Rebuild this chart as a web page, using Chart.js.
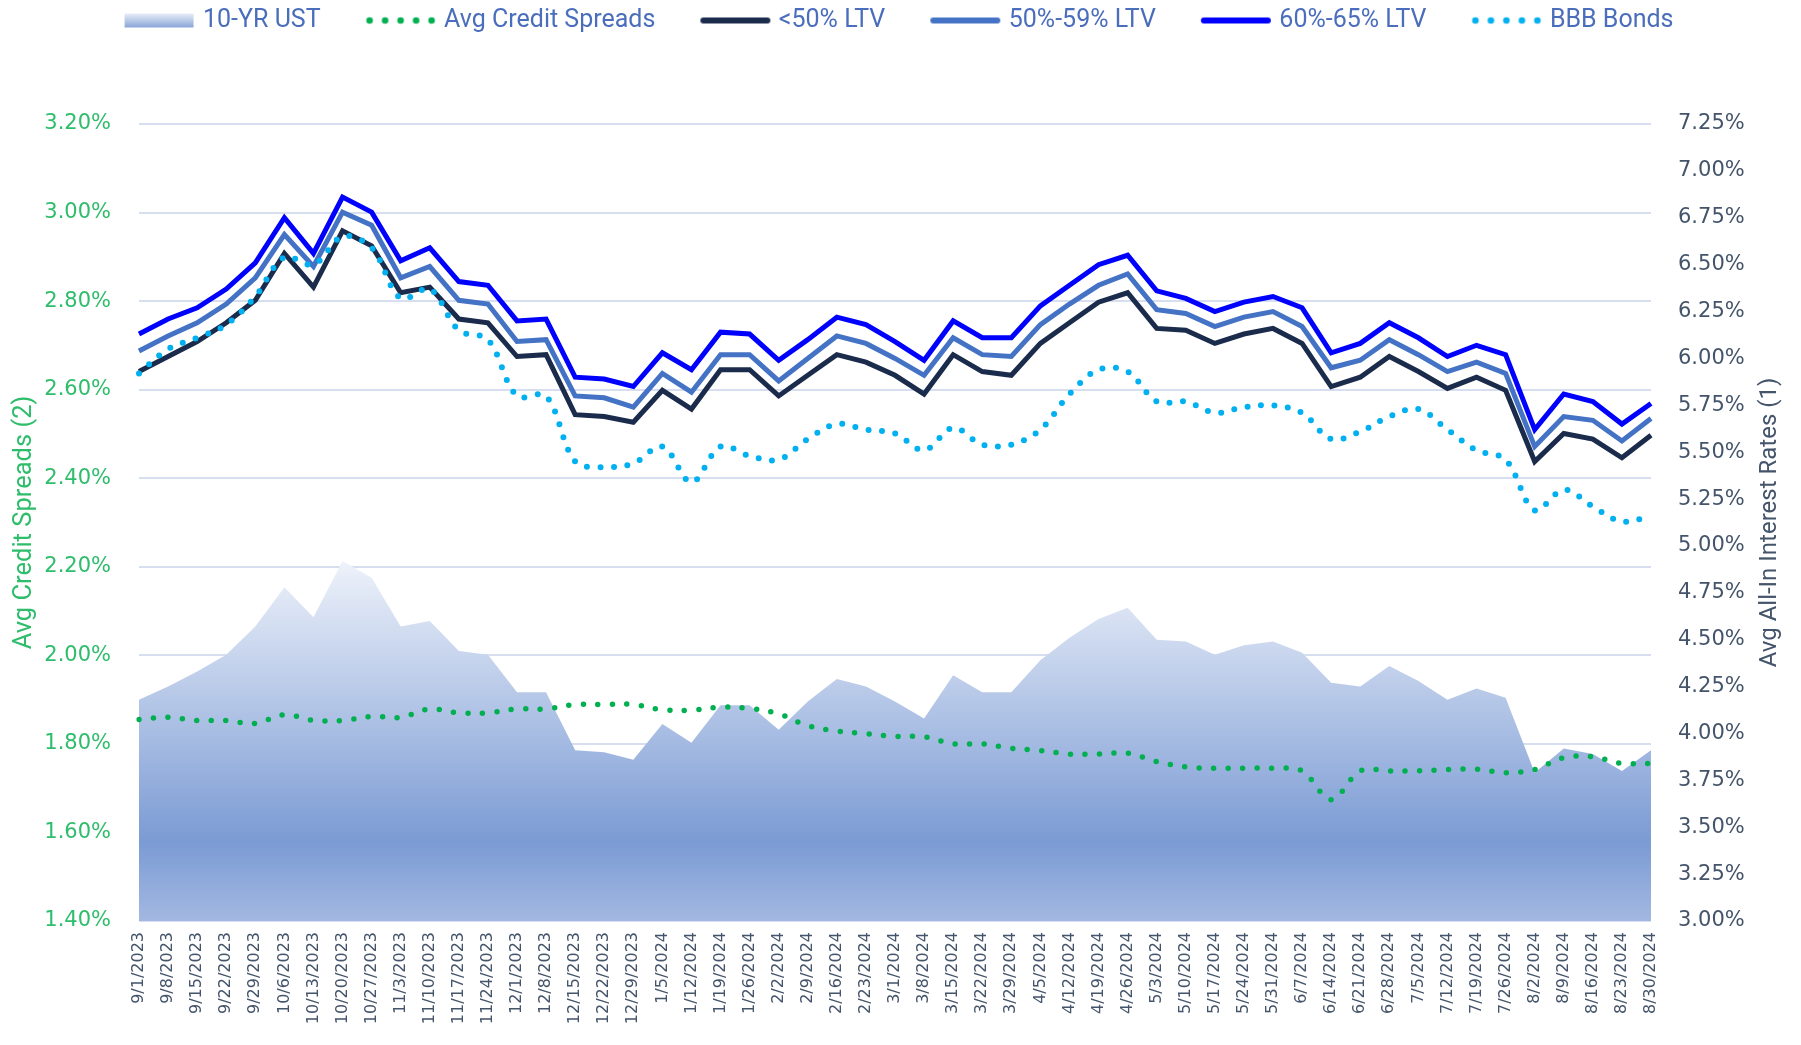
<!DOCTYPE html>
<html>
<head>
<meta charset="utf-8">
<title>Avg All-In Interest Rates vs Avg Credit Spreads</title>
<script src="https://cdn.jsdelivr.net/npm/chart.js@4.4.1/dist/chart.umd.min.js"></script>
<style>
  html, body { margin: 0; padding: 0; background: #ffffff; }
  #wrap { width: 1801px; height: 1045px; position: relative; }
</style>
</head>
<body>
<div id="wrap"><canvas id="rates-chart"></canvas></div>
<script>
// weekly dates
const weeks = ['9/1/2023', '9/8/2023', '9/15/2023', '9/22/2023', '9/29/2023', '10/6/2023', '10/13/2023',
    '10/20/2023', '10/27/2023', '11/3/2023', '11/10/2023', '11/17/2023', '11/24/2023', '12/1/2023',
    '12/8/2023', '12/15/2023', '12/22/2023', '12/29/2023', '1/5/2024', '1/12/2024', '1/19/2024',
    '1/26/2024', '2/2/2024', '2/9/2024', '2/16/2024', '2/23/2024', '3/1/2024', '3/8/2024', '3/15/2024',
    '3/22/2024', '3/29/2024', '4/5/2024', '4/12/2024', '4/19/2024', '4/26/2024', '5/3/2024', '5/10/2024',
    '5/17/2024', '5/24/2024', '5/31/2024', '6/7/2024', '6/14/2024', '6/21/2024', '6/28/2024', '7/5/2024',
    '7/12/2024', '7/19/2024', '7/26/2024', '8/2/2024', '8/9/2024', '8/16/2024', '8/23/2024', '8/30/2024'];

// right axis (%)
const ust10 = [4.18, 4.25, 4.33, 4.42, 4.57, 4.78, 4.62, 4.92, 4.83, 4.57, 4.60, 4.44, 4.42, 4.22, 4.22,
    3.91, 3.90, 3.86, 4.05, 3.95, 4.15, 4.15, 4.02, 4.17, 4.29, 4.25, 4.17, 4.08, 4.31, 4.22, 4.22, 4.39,
    4.51, 4.61, 4.67, 4.50, 4.49, 4.42, 4.47, 4.49, 4.43, 4.27, 4.25, 4.36, 4.28, 4.18, 4.24, 4.19, 3.79,
    3.92, 3.89, 3.80, 3.91];
const ltvUnder50 = [5.93, 6.01, 6.09, 6.19, 6.31, 6.56, 6.38, 6.68, 6.60, 6.35, 6.38, 6.21, 6.19, 6.01, 6.02,
    5.70, 5.69, 5.66, 5.83, 5.73, 5.94, 5.94, 5.80, 5.91, 6.02, 5.98, 5.91, 5.81, 6.02, 5.93, 5.91, 6.08,
    6.19, 6.30, 6.35, 6.16, 6.15, 6.08, 6.13, 6.16, 6.08, 5.85, 5.90, 6.01, 5.93, 5.84, 5.90, 5.83, 5.45,
    5.60, 5.57, 5.47, 5.59];
const ltv50to59 = [6.04, 6.12, 6.19, 6.29, 6.43, 6.66, 6.49, 6.78, 6.71, 6.43, 6.49, 6.31, 6.29, 6.09, 6.10,
    5.80, 5.79, 5.74, 5.92, 5.82, 6.02, 6.02, 5.88, 6.00, 6.12, 6.08, 6.00, 5.91, 6.11, 6.02, 6.01, 6.18,
    6.29, 6.39, 6.45, 6.26, 6.24, 6.17, 6.22, 6.25, 6.17, 5.95, 5.99, 6.10, 6.02, 5.93, 5.98, 5.92, 5.53,
    5.69, 5.67, 5.56, 5.68];
const ltv60to65 = [6.13, 6.21, 6.27, 6.37, 6.51, 6.75, 6.56, 6.86, 6.78, 6.52, 6.59, 6.41, 6.39, 6.20, 6.21,
    5.90, 5.89, 5.85, 6.03, 5.94, 6.14, 6.13, 5.99, 6.10, 6.22, 6.18, 6.09, 5.99, 6.20, 6.11, 6.11, 6.28,
    6.39, 6.50, 6.55, 6.36, 6.32, 6.25, 6.30, 6.33, 6.27, 6.03, 6.08, 6.19, 6.11, 6.01, 6.07, 6.02, 5.62,
    5.81, 5.77, 5.65, 5.76];
const bbbBonds = [5.92, 6.05, 6.11, 6.18, 6.33, 6.54, 6.50, 6.65, 6.59, 6.32, 6.37, 6.15, 6.10, 5.80, 5.80,
    5.45, 5.42, 5.44, 5.53, 5.34, 5.53, 5.48, 5.46, 5.57, 5.65, 5.62, 5.60, 5.51, 5.63, 5.54, 5.54, 5.62,
    5.81, 5.94, 5.93, 5.77, 5.77, 5.71, 5.74, 5.75, 5.71, 5.57, 5.61, 5.69, 5.73, 5.62, 5.51, 5.46, 5.19,
    5.30, 5.21, 5.13, 5.16];

// left axis (%)
const avgSpreads = [1.855, 1.860, 1.853, 1.853, 1.846, 1.866, 1.853, 1.853, 1.862, 1.860, 1.879, 1.870,
    1.870, 1.879, 1.879, 1.889, 1.889, 1.889, 1.877, 1.876, 1.883, 1.880, 1.868, 1.841, 1.829, 1.823,
    1.817, 1.816, 1.800, 1.800, 1.790, 1.785, 1.777, 1.777, 1.779, 1.760, 1.748, 1.745, 1.745, 1.745,
    1.739, 1.674, 1.739, 1.739, 1.739, 1.742, 1.743, 1.735, 1.742, 1.769, 1.771, 1.756, 1.756];

// axis ranges: min, max, step
const leftRange = [1.40, 3.20, 0.20];
const rightRange = [3.00, 7.25, 0.25];

const LABELFONT = 'Roboto, "Liberation Sans", sans-serif';
const TICKFONT = '"DejaVu Sans", sans-serif';
const LEGEND_COLOR = '#4A6EBC';

// legend symbol canvases: blank space on the left, symbol at the right end
const SWATCH_SLOT = 103;
function legendSwatch(kind, color) {
    const c = document.createElement('canvas');
    c.width = SWATCH_SLOT + 18;
    c.height = 18;
    const g = c.getContext('2d');
    const x0 = c.width - 75;
    if (kind === 'area') {
        const grad = g.createLinearGradient(0, 2, 0, 16);
        grad.addColorStop(0, '#E9EEF8');
        grad.addColorStop(1, '#8AA5D9');
        g.fillStyle = grad;
        g.fillRect(x0, 2, 69, 14);
    } else if (kind === 'dots') {
        g.fillStyle = color;
        for (let k = 0; k < 5; k++) {
            g.beginPath();
            g.arc(x0 + 4 + k * 15.5, 9, 3.3, 0, Math.PI * 2);
            g.fill();
        }
    } else {
        g.strokeStyle = color;
        g.lineWidth = 6;
        g.lineCap = 'round';
        g.beginPath();
        g.moveTo(x0 + 3, 9);
        g.lineTo(x0 + 67, 9);
        g.stroke();
    }
    return c;
}

const legendItems = [
    {text: '10-YR UST', swatch: legendSwatch('area')},
    {text: 'Avg Credit Spreads', swatch: legendSwatch('dots', '#00B050')},
    {text: '<50% LTV', swatch: legendSwatch('line', '#1A2B4C')},
    {text: '50%-59% LTV', swatch: legendSwatch('line', '#4472C4')},
    {text: '60%-65% LTV', swatch: legendSwatch('line', '#0000FF')},
    {text: 'BBB Bonds', swatch: legendSwatch('dots', '#00B0F0')}
];

// push the plot area down below the legend, and re-center the legend row
const legendSpacer = {
    id: 'legendSpacer',
    beforeInit(chart) {
        const origFit = chart.legend.fit;
        chart.legend.fit = function fit() {
            origFit.bind(chart.legend)();
            this.height = 124;
        };
    },
    afterLayout(chart) {
        chart.legend.left -= 20;
        chart.legend.right -= 20;
    }
};

// right axis title reads bottom-to-top
const rightTitle = {
    id: 'rightTitle',
    afterDraw(chart) {
        const ctx = chart.ctx;
        const area = chart.chartArea;
        const s = chart.scales.yR;
        ctx.save();
        ctx.translate(s.right - 31, (area.top + area.bottom) / 2);
        ctx.rotate(-Math.PI / 2);
        ctx.font = '24px ' + LABELFONT;
        ctx.fillStyle = '#44546A';
        ctx.textAlign = 'center';
        ctx.textBaseline = 'middle';
        ctx.fillText('Avg All-In Interest Rates (1)', 0, 0);
        ctx.restore();
    }
};

function ustGradient(context) {
    const chart = context.chart;
    const area = chart.chartArea;
    if (!area || !chart.scales.yR) return '#A9BDE3';
    const yTop = chart.scales.yR.getPixelForValue(Math.max(...ust10));
    const g = chart.ctx.createLinearGradient(0, yTop, 0, area.bottom);
    g.addColorStop(0, '#EEF2FA');
    g.addColorStop(0.78, '#7B9BD4');
    g.addColorStop(1, '#A3B8E1');
    return g;
}

const dotted = (color, width, gap) => ({
    borderColor: color,
    backgroundColor: color,
    borderWidth: width,
    borderDash: [0, gap],
    borderCapStyle: 'round',
    tension: 0.35,
    pointRadius: 0,
    fill: false
});

const solid = (color) => ({
    borderColor: color,
    backgroundColor: color,
    borderWidth: 5,
    borderJoinStyle: 'miter',
    tension: 0,
    pointRadius: 0,
    fill: false
});

const ctx = document.getElementById('rates-chart').getContext('2d');

new Chart(ctx, {
    type: 'line',
    data: {
        labels: weeks,
        datasets: [
            {
                label: '10-YR UST', data: ust10, yAxisID: 'yR', order: 10,
                backgroundColor: ustGradient, borderWidth: 0, pointRadius: 0, fill: 'origin', tension: 0
            },
            Object.assign({label: 'Avg Credit Spreads', data: avgSpreads, yAxisID: 'yL', order: 0},
                dotted('#00B050', 5.5, 14.5)),
            Object.assign({label: '<50% LTV', data: ltvUnder50, yAxisID: 'yR', order: 3}, solid('#1A2B4C')),
            Object.assign({label: '50%-59% LTV', data: ltv50to59, yAxisID: 'yR', order: 2}, solid('#4472C4')),
            Object.assign({label: '60%-65% LTV', data: ltv60to65, yAxisID: 'yR', order: 1}, solid('#0000FF')),
            Object.assign({label: 'BBB Bonds', data: bbbBonds, yAxisID: 'yR', order: 0},
                dotted('#00B0F0', 6, 13.5))
        ]
    },
    options: {
        responsive: true,
        maintainAspectRatio: false,
        animation: false,
        layout: {padding: 0},
        plugins: {
            tooltip: {enabled: false},
            legend: {
                position: 'top',
                align: 'center',
                labels: {
                    usePointStyle: true,
                    pointStyleWidth: SWATCH_SLOT,
                    padding: 8,
                    color: LEGEND_COLOR,
                    font: {family: LABELFONT, size: 25},
                    generateLabels: () => legendItems.map((it, i) => ({
                        text: it.text,
                        pointStyle: it.swatch,
                        fontColor: LEGEND_COLOR,
                        fillStyle: 'transparent',
                        strokeStyle: 'transparent',
                        lineWidth: 0,
                        hidden: false,
                        datasetIndex: i
                    }))
                }
            }
        },
        scales: {
            x: {
                offset: false,
                grid: {display: false, drawTicks: false},
                border: {display: false},
                ticks: {
                    autoSkip: false,
                    maxRotation: 90,
                    minRotation: 90,
                    padding: 11,
                    color: '#44546A',
                    font: {family: TICKFONT, size: 16}
                },
                afterFit(s) { s.height = 124; }
            },
            yL: {
                position: 'left',
                min: leftRange[0],
                max: leftRange[1],
                grid: {color: '#D6DEEF', lineWidth: 2, drawTicks: false},
                border: {display: false},
                ticks: {
                    stepSize: leftRange[2],
                    padding: 28,
                    color: '#2EBD6B',
                    font: {family: TICKFONT, size: 21},
                    callback: v => v.toFixed(2) + '%'
                },
                title: {
                    display: true,
                    text: 'Avg Credit Spreads (2)',
                    color: '#2EBD6B',
                    font: {family: LABELFONT, size: 25.5},
                    padding: {top: 9, bottom: 0}
                },
                afterFit(s) { s.width = 139; }
            },
            yR: {
                position: 'right',
                min: rightRange[0],
                max: rightRange[1],
                grid: {display: false, drawTicks: false},
                border: {display: false},
                ticks: {
                    stepSize: rightRange[2],
                    autoSkip: false,
                    padding: 27,
                    color: '#44546A',
                    font: {family: TICKFONT, size: 21},
                    callback: v => v.toFixed(2) + '%'
                },
                afterFit(s) { s.width = 150; }
            }
        }
    },
    plugins: [legendSpacer, rightTitle]
});
</script>
</body>
</html>
